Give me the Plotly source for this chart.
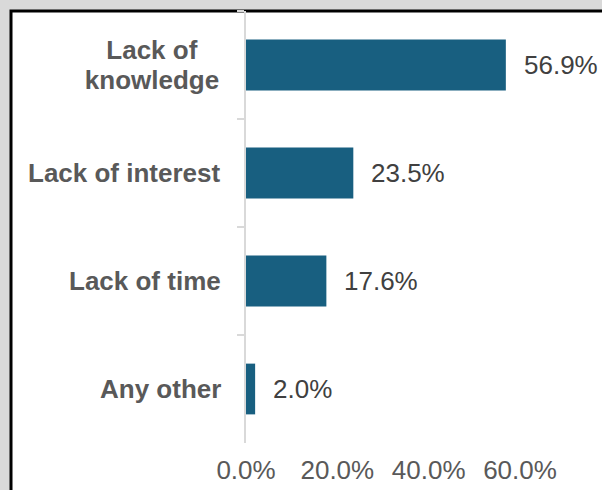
import plotly.graph_objects as go

# Reasons reported, top to bottom, with their shares (%)
categories = ["Lack of\nknowledge", "Lack of interest", "Lack of time", "Any other"]
shares = [56.9, 23.5, 17.6, 2.0]
x_ticks = [0, 20, 40, 60]
x_tick_labels = [f"{v:.1f}%" for v in x_ticks]

BAR_COLOR = "#185f80"
LABEL_GRAY = "#595959"
VALUE_GRAY = "#404040"
FONT = "Liberation Sans, Arial, sans-serif"

W, H = 602, 490
L, R, T, B = 246, 82, 11, 47
plot_w = W - L - R
plot_h = H - T - B

fig = go.Figure()
fig.add_trace(go.Bar(
    x=shares,
    y=categories,
    orientation="h",
    marker=dict(color=BAR_COLOR, line=dict(width=0)),
    hoverinfo="skip",
))

# Category labels: each line centred in a common box, tight line spacing
annotations = []
line_gap = 30
for cat in categories:
    lines = cat.split("\n")
    n = len(lines)
    for i, txt in enumerate(lines):
        ann = dict(
            x=0, xref="paper", y=cat, yref="y",
            text=f"<b>{txt}</b>", showarrow=False,
            xanchor="right", yanchor="middle", xshift=-23,
            yshift=((n - 1) / 2 - i) * line_gap,
            font=dict(family=FONT, size=26, color=LABEL_GRAY),
        )
        if n > 1:
            ann.update(width=138, align="center")
        annotations.append(ann)

# Value labels just past the bar ends
for cat, v in zip(categories, shares):
    annotations.append(dict(
        x=v, xref="x", y=cat, yref="y",
        text=f"{v:.1f}%", showarrow=False,
        xanchor="left", yanchor="middle", xshift=16,
        font=dict(family=FONT, size=26, color=VALUE_GRAY),
    ))

# White card with a black top/left edge over the grey page
def px_to_paper_x(px):
    return (px - L) / plot_w

def px_to_paper_y(py):
    return 1 - (py - T) / plot_h

shapes = [dict(
    type="rect", xref="paper", yref="paper", layer="below",
    x0=px_to_paper_x(11), x1=px_to_paper_x(W + 40),
    y0=px_to_paper_y(H + 40), y1=px_to_paper_y(11),
    fillcolor="white", line=dict(color="black", width=3),
)]

fig.update_layout(
    width=W, height=H,
    margin=dict(l=L, r=R, t=T, b=B, pad=0, autoexpand=False),
    paper_bgcolor="#d9d9d9",
    plot_bgcolor="rgba(0,0,0,0)",
    bargap=0.53,
    showlegend=False,
    annotations=annotations,
    shapes=shapes,
    font=dict(family=FONT, size=26, color=LABEL_GRAY),
)
fig.update_xaxes(
    range=[0, 60], tickvals=x_ticks, ticktext=x_tick_labels,
    showgrid=False, zeroline=False, showline=False, ticks="",
    ticklabelstandoff=9, automargin=False,
    tickfont=dict(family=FONT, size=26, color=LABEL_GRAY),
    fixedrange=True,
)
fig.update_yaxes(
    categoryorder="array", categoryarray=categories, autorange="reversed",
    showticklabels=False, showgrid=False, zeroline=False,
    showline=True, linecolor="#d9d9d9", linewidth=1.5,
    ticks="outside", tickson="boundaries", ticklen=7,
    tickcolor="#d9d9d9", tickwidth=1.5, automargin=False,
    fixedrange=True,
)

fig.write_html("out.html", config={"displayModeBar": False})
